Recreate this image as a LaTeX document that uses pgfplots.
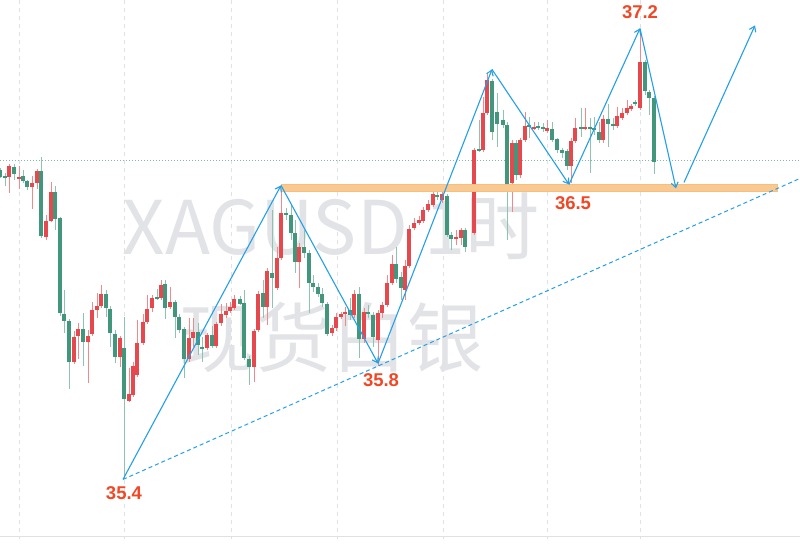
\documentclass[border=0pt]{standalone}
\usepackage{pgfplots}
\pgfplotsset{compat=1.18}
\usepackage{pgfplotstable}
\usepackage{fontspec}
\setmainfont{Liberation Sans}
\newfontfamily\cjk{Noto Sans CJK SC}
\usetikzlibrary{arrows.meta}

\definecolor{upc}{RGB}{229,72,77}
\definecolor{upw}{RGB}{236,138,142}
\definecolor{dnc}{RGB}{66,150,124}
\definecolor{dnw}{RGB}{140,196,176}
\definecolor{arrowc}{RGB}{36,160,232}
\definecolor{bandc}{RGB}{249,201,146}
\definecolor{labc}{RGB}{240,72,38}
\definecolor{wmc}{RGB}{226,227,231}
\definecolor{gridc}{RGB}{222,225,232}
\definecolor{dotc}{RGB}{130,185,165}

% candles in pixel coords: x, wick top, wick bottom, body top, body bottom
\pgfplotstableread{
x top bot btop bbot
9 164 193 166 177
19 166 189 177 178.5
32 176 209 183 187
37 169 189 171 183
46 215 240 221 237
51 182 222 192 221
74 331 364 337 362
78 323 359 329 336
88 330 383 336 342
92 302 336 310 334
97 293 318 306 310
101 285 308 294 306
120 336 367 338 357
129 368 402 394 401
133 362 397 366 395
137 320 377 343 375
143 314 345 322 343
147 295 324 309 322
152 295 312 298 308
161 280 300 285 298
170 287 309 302 307
189 318 362 338 359
193 318 347 332 338
207 333 350 335 348
216 322 348 324 346
221 304 326 314 323
226 303 318 311 315
230 302 313 307 311
234 295 310 299 308
254 329 382 331 367
258 291 332 294 330
267 268 325 271 307
277 247 290 258 288
281 187 260 213 258
299 243 288 247 262
332 325 336 328 333
336 313 331 317 328
341 312 319 314 317
345 307 326 312 314
354 290 318 294 315
364 308 343 312 339
378 310 366 313 340
382 302 318 305 313
387 275 307 283 305
392 255 285 264 283
405 260 300 266 290
409 225 268 229 266
414 218 230 223 228
419 216 225 220 223
423 207 223 210 221
428 200 212 204 210
433 192 207 194 205
442 192 203 194 200
456 230 245 237 238.5
461 228 245 230 238
474 148 235 150 233
483 97 152 113 150
487 73 115 80 113
512 140 212 143 183
520 138 178 140 175
525 112 142 126 140
534 122 130 127 128.5
547 120 133 128 131
571 138 183 141 166
575 118 143 128 141
585 108 130 127 128.5
603 115 143 119 140
617 107 128 116 126
622 108 120 113 118
627 100 115 108 113
631 104 111 106 109
640 30 110 62 108
}\redtab

\pgfplotstableread{
x top bot btop bbot
0 168 178 170 177
5 173 186 176 178
14 164 180 167 174
23 170 183 176 181
27 180 190 181 187
41 157 238 171 236
55 186 230 192 219
60 217 316 218 313
64 290 333 314 321
69 319 389 321 362
83 313 366 329 342
106 290 317 294 308
110 306 347 309 333
115 330 363 334 357
124 317 478 348 399
157 289 300 297 299
165 280 319 284 308
175 300 338 302 317
179 314 333 317 330
184 327 378 329 359
198 323 355 332 345
202 337 362 347 348.5
212 326 348 335 346
240 296 305 299 304
244 290 360 303 358
249 356 385 359 367
263 280 318 293 307
272 210 308 273 278
286 208 220 213 214.5
291 205 240 215 233
295 220 273 233 262
304 230 258 247 253
309 250 313 253 283
313 275 292 283 287
318 283 297 287 294
322 288 307 294 303
327 302 336 304 334
350 298 320 310 315
359 287 358 294 339
368 305 318 312 314
373 312 347 315 337
396 247 283 264 279
401 272 300 277 288
437 192 200 195 197
447 194 237 196 235
451 232 250 235 239
465 228 252 230 247
479 120 152 149 150.5
492 79 140 81 132
497 93 147 112 124
503 110 128 120 125
507 122 240 125 185
516 140 180 143 175
529 117 138 125 127
538 122 130 126 127.5
543 123 132 127 128.5
552 122 142 129 140
557 138 153 139 150
562 148 158 150 153
567 149 170 151 166
581 108 137 127 128.5
590 118 173 127 129
594 117 135 128 130
599 122 143 132 140
608 104 147 119 124
613 118 130 124 126
635 100 106 102 103.5
645 60 95 62 91
649 90 115 92 98
654 96 174 98 162
}\greentab

\pgfplotsset{
  wick/.style={draw=none, mark=none, forget plot,
    error bars/.cd, y dir=plus, y explicit, error mark=none,
    error bar style={line width=1pt, draw=#1}},
  body/.style={draw=none, mark=none, forget plot,
    error bars/.cd, y dir=plus, y explicit, error mark=none,
    error bar style={line width=3.4pt, draw=#1}},
  seg/.style={arrowc, line width=1.1pt, -{Straight Barb[length=5pt,width=7pt]}, forget plot},
}

\begin{document}
\begin{tikzpicture}
\begin{axis}[
  scale only axis, width=800pt, height=539pt,
  xmin=0, xmax=800, ymin=0, ymax=539, y dir=reverse,
  axis line style={draw=none},
  xtick={19,124,231,337,443,547,640}, xticklabels={},
  ytick=\empty, major tick length=0pt,
  xmajorgrids,
  grid style={draw=gridc, dash pattern=on 4pt off 4pt, line width=0.8pt},
  axis background/.style={fill=white},
]
% watermark
\node[text=wmc, font=\cjk\fontsize{74}{74}\selectfont, anchor=base] at (axis cs:331,254) {XAGUSD 1时};
\node[text=wmc, font=\cjk\fontsize{76}{76}\selectfont, anchor=base] at (axis cs:331,366) {现货白银};

% bottom border and dotted last-price line
\addplot[gridc, line width=1pt, forget plot] coordinates {(0,536)(800,536)};
\addplot[dotc, dash pattern=on 1pt off 2pt, line width=0.9pt, forget plot] coordinates {(0,160.5)(800,160.5)};

% candles
\addplot[wick=upw] table[x=x, y=top, y error expr=\thisrow{bot}-\thisrow{top}] {\redtab};
\addplot[wick=dnw] table[x=x, y=top, y error expr=\thisrow{bot}-\thisrow{top}] {\greentab};
\addplot[body=upc] table[x=x, y=btop, y error expr=\thisrow{bbot}-\thisrow{btop}] {\redtab};
\addplot[body=dnc] table[x=x, y=btop, y error expr=\thisrow{bbot}-\thisrow{btop}] {\greentab};

% support band
\addplot[fill=bandc, draw=bandc!85!orange, line width=0.5pt, forget plot]
  coordinates {(281,184)(777,184)(777,191)(281,191)} -- cycle;

% trend line
\addplot[arrowc, line width=1pt, dash pattern=on 4pt off 3pt, forget plot]
  coordinates {(123,479)(800,178)};

% swing arrows
\addplot[seg] coordinates {(123,479)(281,185)};
\addplot[seg] coordinates {(281,185)(378,363)};
\addplot[seg] coordinates {(378,363)(492,69)};
\addplot[seg] coordinates {(492,69)(569,184)};
\addplot[seg] coordinates {(569,184)(640,28)};
\addplot[seg] coordinates {(640,28)(676,188)};
\addplot[seg] coordinates {(684,182)(755,25)};

% labels
\node[text=labc, font=\bfseries\fontsize{18.5}{18.5}\selectfont] at (axis cs:124,493) {35.4};
\node[text=labc, font=\bfseries\fontsize{18.5}{18.5}\selectfont] at (axis cs:381,380) {35.8};
\node[text=labc, font=\bfseries\fontsize{18.5}{18.5}\selectfont] at (axis cs:573,203) {36.5};
\node[text=labc, font=\bfseries\fontsize{18.5}{18.5}\selectfont] at (axis cs:640,12) {37.2};
\end{axis}
\end{tikzpicture}
\end{document}
